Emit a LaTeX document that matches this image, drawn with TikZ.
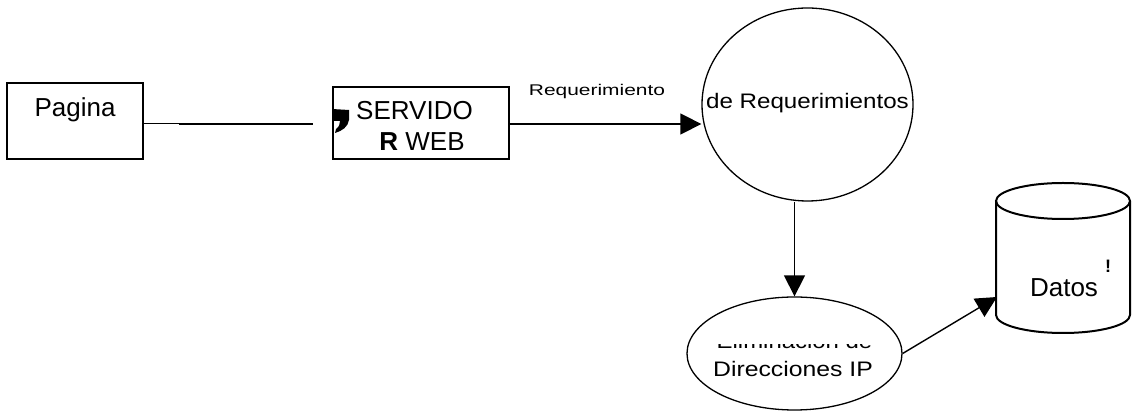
\documentclass[tikz,border=0pt]{standalone}
\usepackage{fontspec}
\setmainfont{Liberation Sans}
\usetikzlibrary{shapes.geometric,arrows.meta}
\tikzset{
  boxst/.style={draw, line width=1.6pt, inner sep=0pt},
  ovalst/.style={draw, ellipse, line width=1.3pt, inner sep=0pt},
  arr/.style={line width=1.4pt, -{Triangle[length=21pt,width=21pt]}},
  lbl/.style={inner sep=0pt, anchor=base},
}
\begin{document}
\begin{tikzpicture}[x=1pt,y=1pt]
\useasboundingbox (0,0) rectangle (1136,412);
% Pagina box
\node[boxst, minimum width=136pt, text height=34pt, text depth=42pt, font=\fontsize{26}{30}\selectfont] (pag) at (75,291) {Pagina};
% Servidor box
\node[boxst, minimum width=176pt, minimum height=72pt] (srv) at (421,289) {};
\node[lbl, font=\fontsize{26}{30}\selectfont] (srv1) at (414.5,292) {SERVIDO};
\node[lbl, font=\fontsize{26}{30}\selectfont] (srv2) at (422,261) {\textbf{R} WEB};
% bold comma mark
\fill (332,303) -- (349,302) -- (349,292) .. controls (348,285) and (342,281) .. (335,279)
  -- (336,283) .. controls (339,285) and (340,288) .. (340,291) -- (332,291) -- cycle;
% connector Pagina -- Servidor
\coordinate (l1) at (179,288);
\coordinate (l2) at (313,288);
\draw[line width=1pt] (pag.east |- l1) -- (l1);
\draw[line width=2pt] (l1) -- (l2);
% circle
\node[ovalst, minimum width=211pt, minimum height=193pt] (req) at (807.5,307.5) {};
\node[lbl, xscale=1.15, font=\fontsize{21}{25}\selectfont] (reqt) at (807.5,303) {de Requerimientos};
% arrow Servidor -> circle
\coordinate (s1) at (517,288);
\draw[line width=2.5pt] (srv.east |- s1) -- (s1);
\draw[arr] (s1) -- (req.west |- s1);
\node[lbl, xscale=1.35, font=\fontsize{15.5}{18}\selectfont] (rql) at (597,316) {Requerimiento};
% lower ellipse
\node[ovalst, minimum width=215pt, minimum height=113pt] (elim) at (794.5,58.5) {};
\begin{scope}
  \clip (680,50) rectangle (910,67);
  \node[lbl, xscale=1.14, font=\fontsize{21}{25}\selectfont] (elt) at (794.5,63) {Eliminación de};
\end{scope}
\node[lbl, xscale=1.18, font=\fontsize{21}{25}\selectfont] (dirt) at (793,35) {Direcciones IP};
\draw[arr] (req.south -| elim.north) -- (elim.north);
% cylinder
\draw[line width=2pt] (996,211) -- (996,97) arc[start angle=180, end angle=360, x radius=67, y radius=18] -- (1130,211);
\draw[line width=2pt] (1063,211) ellipse [x radius=67, y radius=18];
\coordinate (db) at (997,115);
\node[lbl, font=\fontsize{26}{30}\selectfont] (datos) at (1064,115) {Datos};
\node[lbl, font=\fontsize{18}{20}\bfseries\selectfont] (bang) at (1108,139) {!};
\draw[arr] (elim.east) -- (db);
\end{tikzpicture}
\end{document}
